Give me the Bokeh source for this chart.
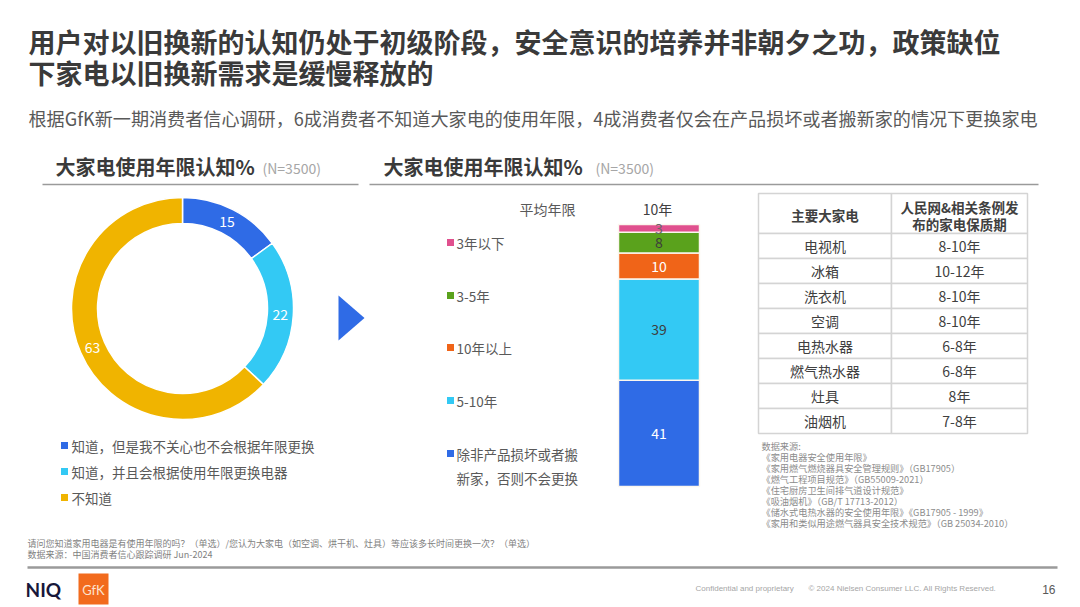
import numpy as np
from bokeh.plotting import figure
from bokeh.models import Range1d
from bokeh.core.properties import value
from bokeh.embed import file_html
from bokeh.resources import INLINE

# ---------------- data ----------------
title_lines = ["用户对以旧换新的认知仍处于初级阶段，安全意识的培养并非朝夕之功，政策缺位",
               "下家电以旧换新需求是缓慢释放的"]
subtitle = "根据GfK新一期消费者信心调研，6成消费者不知道大家电的使用年限，4成消费者仅会在产品损坏或者搬新家的情况下更换家电"
section_title = "大家电使用年限认知%"
sample_note = "(N=3500)"

donut_labels = ["知道，但是我不关心也不会根据年限更换", "知道，并且会根据使用年限更换电器", "不知道"]
donut_values = [15, 22, 63]
donut_colors = ["#2F6BE6", "#33C9F4", "#F0B400"]

bar_labels = ["3年以下", "3-5年", "10年以上", "5-10年", "除非产品损坏或者搬\n新家，否则不会更换"]
bar_values = [3, 8, 10, 39, 41]          # top to bottom
bar_colors = ["#E0508E", "#5AA21C", "#F06418", "#33C9F4", "#2F6BE6"]
bar_text_colors = ["#666666", "#3d3d3d", "#ffffff", "#3d3d3d", "#ffffff"]
avg_label = "平均年限"
avg_value = "10年"

table_header = ["主要大家电", "人民网&相关条例发\n布的家电保质期"]
appliances = ["电视机", "冰箱", "洗衣机", "空调", "电热水器", "燃气热水器", "灶具", "油烟机"]
warranty = ["8-10年", "10-12年", "8-10年", "8-10年", "6-8年", "6-8年", "8年", "7-8年"]

sources = ["数据来源:",
           "《家用电器安全使用年限》",
           "《家用燃气燃烧器具安全管理规则》（GB17905）",
           "《燃气工程项目规范》（GB55009-2021）",
           "《住宅厨房卫生间排气道设计规范》",
           "《吸油烟机》（GB/T 17713-2012）",
           "《储水式电热水器的安全使用年限》《GB17905 - 1999》",
           "《家用和类似用途燃气器具安全技术规范》（GB 25034-2010）"]
footnotes = ["请问您知道家用电器是有使用年限的吗？（单选）/您认为大家电（如空调、烘干机、灶具）等应该多长时间更换一次？（单选）",
             "数据来源：中国消费者信心跟踪调研 Jun-2024"]

# ---------------- canvas ----------------
W, H = 1080, 607
FONT = value("Noto Sans CJK SC")
p = figure(width=W, height=H, x_range=Range1d(0, W), y_range=Range1d(0, H),
           output_backend="svg", toolbar_location=None, min_border=0)
p.axis.visible = False
p.grid.visible = False
p.outline_line_color = None
p.background_fill_color = "white"
p.border_fill_color = "white"


def Y(py):
    return H - py


def txt(x, y, t, size, color="#404040", bold=False, align="left", baseline="middle", font=FONT):
    p.text(x=[x], y=[Y(y)], text=[t], text_font=font, text_font_size=size,
           text_color=color, text_align=align, text_baseline=baseline,
           text_font_style="bold" if bold else "normal")


# titles
txt(28, 41, title_lines[0], "27px", "#3a3a3a", bold=True)
txt(28, 72, title_lines[1], "27px", "#3a3a3a", bold=True)
txt(28, 117, subtitle, "18.1px", "#595959")

# section headers
txt(55, 166, section_title, "20px", "#3a3a3a", bold=True)
txt(262, 167, sample_note, "14px", "#a6a6a6")
txt(383, 166, section_title, "20px", "#3a3a3a", bold=True)
txt(595, 167, sample_note, "14px", "#a6a6a6")
p.segment(x0=[42, 369], y0=[Y(184), Y(184)], x1=[358, 1038], y1=[Y(184), Y(184)],
          line_color="#9a9a9a", line_width=1.3)

# ---------------- donut ----------------
cx, cy, r_in, r_out = 182, 308, 85, 111
vals = np.array(donut_values, dtype=float)
cum = np.concatenate([[0], np.cumsum(vals)]) / vals.sum()
starts = np.pi / 2 - 2 * np.pi * cum[:-1]
ends = np.pi / 2 - 2 * np.pi * cum[1:]
p.annular_wedge(x=[cx] * 3, y=[Y(cy)] * 3, inner_radius=r_in, outer_radius=r_out,
                start_angle=starts, end_angle=ends, direction="clock",
                fill_color=donut_colors, line_color="white", line_width=1.5)
mids = (starts + ends) / 2
rm = (r_in + r_out) / 2
p.text(x=cx + rm * np.cos(mids), y=Y(cy) + rm * np.sin(mids), text=[str(v) for v in donut_values],
       text_font=FONT, text_font_size="14px", text_color="white",
       text_align="center", text_baseline="middle")

# donut legend
for i, (lab, col) in enumerate(zip(donut_labels, donut_colors)):
    yy = 445 + i * 26
    p.scatter(x=[64], y=[Y(yy)], marker="square", size=7, fill_color=col, line_color=None)
    txt(71, yy, lab, "13.5px", "#595959")

# arrow
p.patch(x=[338, 338, 364], y=[Y(295), Y(340), Y(317.5)], fill_color="#2F6BE6", line_color=None)

# ---------------- stacked bar ----------------
bar_top_px, bar_bot_px = 224, 486
bv = np.array(bar_values, dtype=float)
total = bv.sum()
pxpu = (bar_bot_px - bar_top_px) / total
r_start = -(H - bar_bot_px) / pxpu
p.extra_y_ranges = {"bar": Range1d(r_start, r_start + H / pxpu)}
# stack from bottom (last item) to top (first item)
rev = bv[::-1]
bottoms = np.concatenate([[0], np.cumsum(rev)[:-1]])
tops = np.cumsum(rev)
p.vbar(x=[658.5] * len(rev), width=81, bottom=bottoms, top=tops,
       fill_color=bar_colors[::-1], line_color="#fbf6ee", line_width=1.5, y_range_name="bar")
p.text(x=[658.5] * len(rev), y=(bottoms + tops) / 2, text=[str(int(v)) for v in rev],
       text_color=bar_text_colors[::-1], text_font=FONT, text_font_size="14px",
       text_align="center", text_baseline="middle", y_range_name="bar")

txt(547, 208, avg_label, "14px", "#595959", align="center")
txt(657, 208, avg_value, "14px", "#404040", align="center")

legend_y = [242, 295, 347, 400, 453]
for lab, col, yy in zip(bar_labels, bar_colors, legend_y):
    p.scatter(x=[450], y=[Y(yy)], marker="square", size=7, fill_color=col, line_color=None)
    for k, part in enumerate(lab.split("\n")):
        txt(456, yy + k * 24, part, "13.5px", "#595959")

# ---------------- table ----------------
tx0, tx1, tx2 = 758, 891, 1027
row_edges = [193, 233] + [233 + 25 * (i + 1) for i in range(len(appliances))]
p.quad(left=[tx0] * (len(row_edges) - 1) + [tx1] * (len(row_edges) - 1),
       right=[tx1] * (len(row_edges) - 1) + [tx2] * (len(row_edges) - 1),
       top=[Y(v) for v in row_edges[:-1]] * 2, bottom=[Y(v) for v in row_edges[1:]] * 2,
       fill_color="white", line_color="#d4d4d4", line_width=1.5)
cxa, cxb = (tx0 + tx1) / 2, (tx1 + tx2) / 2
txt(cxa, 214, table_header[0], "13.5px", "#404040", bold=True, align="center")
for k, part in enumerate(table_header[1].split("\n")):
    txt(cxb, 206 + k * 17, part, "13.5px", "#404040", bold=True, align="center")
for i, (a, w) in enumerate(zip(appliances, warranty)):
    yy = (row_edges[i + 1] + row_edges[i + 2]) / 2
    txt(cxa, yy, a, "14px", "#404040", align="center")
    txt(cxb, yy, w, "14px", "#404040", align="center")

for i, s in enumerate(sources):
    txt(761, 445 + i * 11.1, s, "9.2px", "#8c8c8c")

# ---------------- footer ----------------
txt(27, 543, footnotes[0], "9px", "#7f7f7f")
txt(27, 554, footnotes[1], "9px", "#7f7f7f")
p.segment(x0=[27], y0=[Y(567)], x1=[1057], y1=[Y(567)], line_color="#9a9a9a", line_width=2.5)
txt(25, 589, "NIQ", "19px", "#17173a", bold=True, font=value("Lato"))
p.quad(left=[78], right=[108], top=[Y(573)], bottom=[Y(604)], fill_color="#F26B1D", line_color=None)
txt(93, 589, "GfK", "13px", "#fde3cf", align="center", font=value("Lato"))
txt(695, 588, "Confidential and proprietary", "8px", "#a6a6a6", font=value("Liberation Sans"))
txt(808, 588, "© 2024 Nielsen Consumer LLC. All Rights Reserved.", "8px", "#a6a6a6",
    font=value("Liberation Sans"))
txt(1055, 589, "16", "12px", "#595959", align="right", font=value("Liberation Sans"))

open("out.html", "w").write(file_html(p, INLINE))
